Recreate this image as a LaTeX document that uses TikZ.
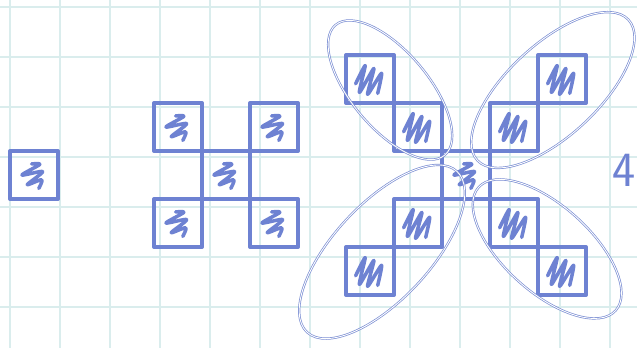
\documentclass[tikz,border=0pt]{standalone}
\usepackage{fontspec}
\usetikzlibrary{arrows.meta}
\definecolor{InkBlue}{HTML}{6E82D2}
\definecolor{LoopBlue}{HTML}{7B8ED3}
\definecolor{GridTeal}{HTML}{DAEDED}

\begin{document}
\begin{tikzpicture}[x=0.96cm, y=-0.96cm, line join=round, line cap=round,
    gridline/.style={GridTeal, line width=1.3pt},
    cellline/.style={InkBlue, line width=2.3pt},
    scribline/.style={InkBlue, line width=2pt},
    loopline/.style={LoopBlue, line width=0.4pt, double=white, double distance=0.5pt},
    scrib/.pic={\draw[scribline] plot[smooth, tension=0.5] coordinates
        {(0.45,0.27) (0.62,0.28) (0.25,0.5) (0.68,0.43) (0.36,0.7) (0.66,0.6) (0.6,0.78)};},
    scribdense/.pic={\draw[scribline] plot[smooth, tension=0.4] coordinates
        {(0.2,0.6) (0.4,0.22) (0.28,0.78) (0.58,0.28) (0.45,0.82) (0.74,0.38) (0.66,0.8)};}]

    % page and squared paper
    \useasboundingbox (-0.2083,-0.1458) rectangle (13.0625,7.1042);
    \clip (-0.2083,-0.1458) rectangle (13.0625,7.1042);
    \fill[white] (-0.2083,-0.1458) rectangle (13.0625,7.1042);
    \draw[gridline] (-0.2083,-0.1458) grid (13.0625,7.1042);

    % ========== LEFT: one cell ==========
    \draw[cellline] (0,3) rectangle ++(1,1);
    \pic at (0,3) {scrib};

    % ========== MIDDLE: five cells ==========
    \foreach \c/\r in {3/2, 5/2, 4/3, 3/4, 5/4} {
        \draw[cellline] (\c,\r) rectangle ++(1,1);
        \pic at (\c,\r) {scrib};
    }

    % ========== RIGHT: nine cells ==========
    \draw[cellline] (9,3) rectangle ++(1,1);
    \pic at (9,3) {scrib};
    \foreach \c/\r in {8/2, 7/1, 10/2, 11/1, 8/4, 10/4, 7/5, 11/5} {
        \draw[cellline] (\c,\r) rectangle ++(1,1);
        \pic at (\c,\r) {scribdense};
    }

    % loops round each pair
    \draw[loopline, rotate around={-50:(7.92,1.73)}] (7.92,1.73) ellipse (1.77 and 0.8);
    \draw[loopline, rotate around={43:(11.31,1.73)}] (11.31,1.73) ellipse (2.15 and 0.95);
    \draw[loopline, rotate around={47:(7.75,5.10)}] (7.75,5.10) ellipse (2.29 and 1.0);
    \draw[loopline, rotate around={-42:(11.19,5.04)}] (11.19,5.04) ellipse (1.92 and 0.9);

    % next figure at the edge
    \node[InkBlue, font=\sffamily\fontsize{28}{28}\selectfont, inner sep=0pt] (nextnum) at (12.8,3.4) {4};

\end{tikzpicture}
\end{document}
